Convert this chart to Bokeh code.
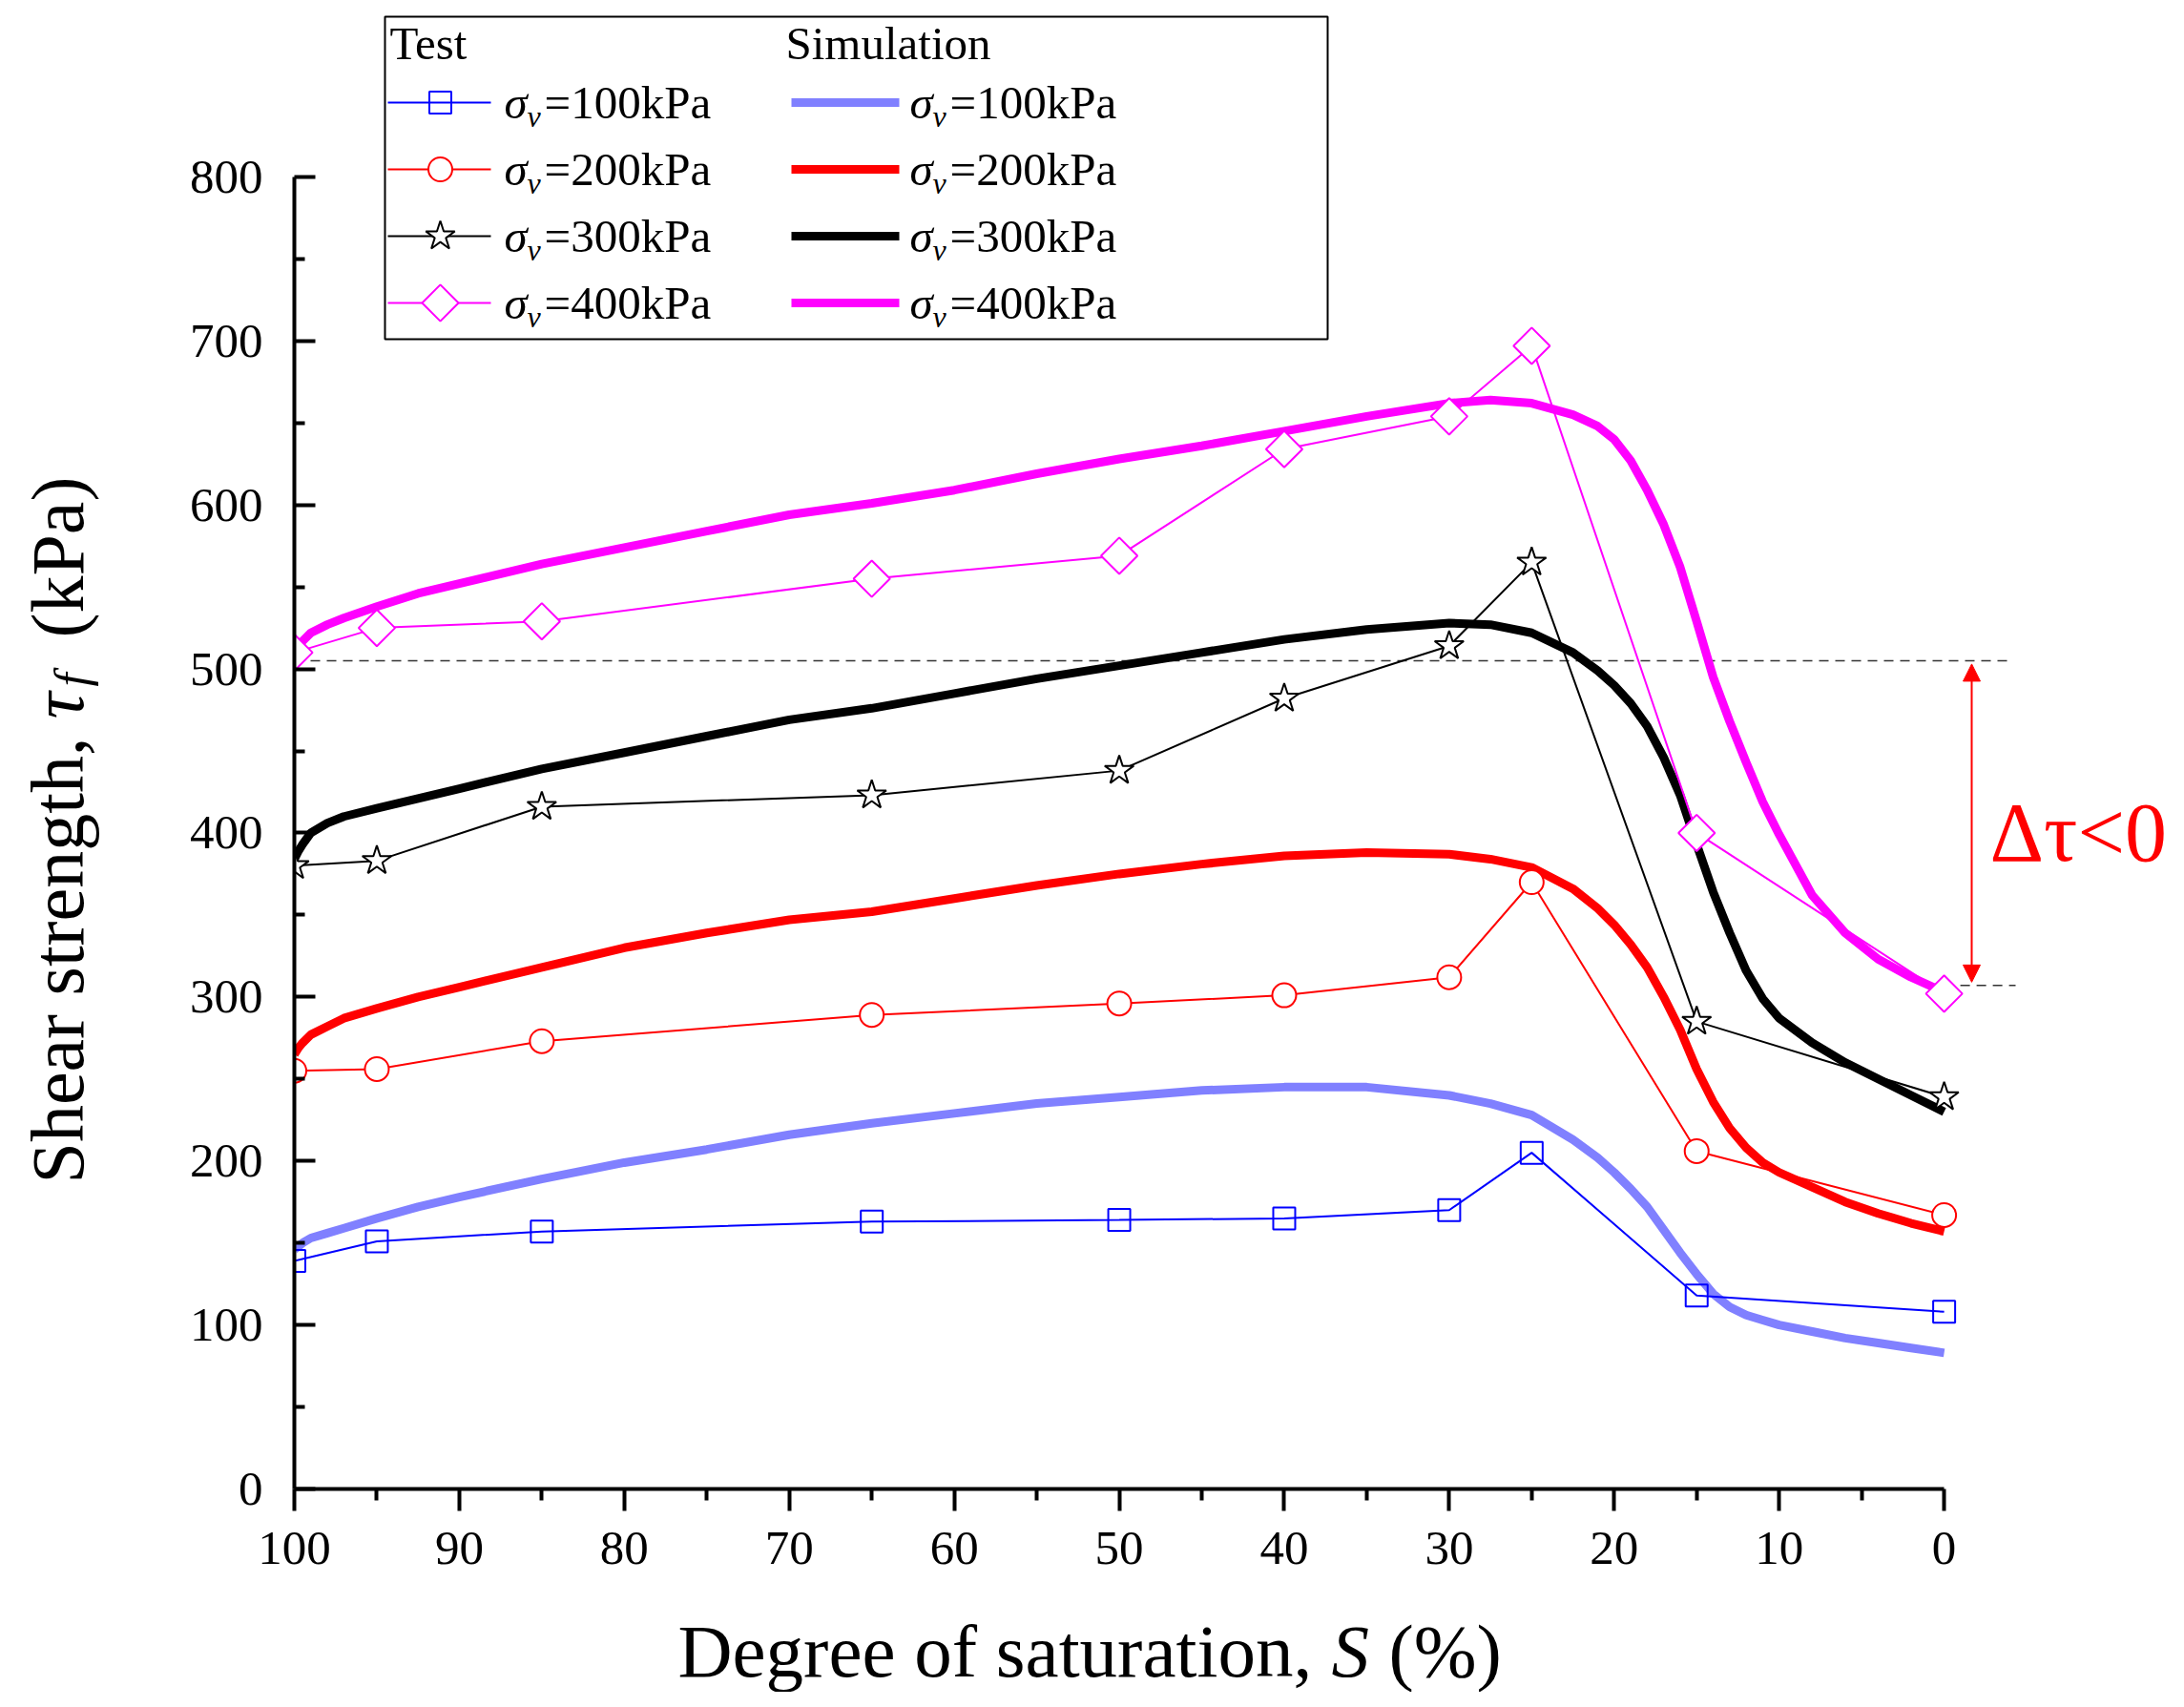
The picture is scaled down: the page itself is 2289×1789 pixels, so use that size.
import numpy as np
from bokeh.plotting import figure
from bokeh.layouts import row, column
from bokeh.models import Range1d, FixedTicker, Label, Arrow, NormalHead
from bokeh.embed import file_html
from bokeh.resources import INLINE

FONT = "Liberation Serif"

# test results: degree of saturation (%) and shear strength (kPa)
S_TEST = [100, 95, 85, 65, 50, 40, 30, 25, 15, 0]
TEST_100 = [139, 151, 157, 163, 164, 165, 170, 205, 118, 108]
TEST_200 = [255, 256, 273, 289, 296, 301, 312, 370, 206, 167]
TEST_300 = [380, 383, 416, 423, 438, 482, 514, 565, 285, 239]
TEST_400 = [510, 525, 529, 555, 569, 634, 654, 697, 400, 302]

# simulation curves
S_SIM = [100, 99.75, 99.5, 99, 98, 97, 95, 92.5, 90, 85, 80, 75, 70, 65, 60,
         55, 50, 45, 40, 35, 30, 27.5, 25, 22.5, 21, 20, 19, 18, 17, 16, 15,
         14, 13, 12, 11, 10, 8, 6, 4, 2, 0]
SIM_100 = [146, 148, 150, 153, 156, 159, 165, 172, 178, 189, 199, 207, 216, 223,
           229, 235, 239, 243, 245, 245, 240, 235, 228, 213, 202, 193, 183, 172,
           158, 144, 131, 119, 111, 106, 103, 100, 96, 92, 89, 86, 83]
SIM_200 = [265, 269, 272, 277, 282, 287, 293, 300, 306, 318, 330, 339, 347, 352,
           360, 368, 375, 381, 386, 388, 387, 384, 379, 366, 354, 344, 332, 318,
           300, 280, 256, 236, 220, 208, 199, 193, 184, 175, 168, 162, 157]
SIM_300 = [384, 389, 393, 400, 406, 410, 415, 421, 427, 439, 449, 459, 469, 476,
           485, 494, 502, 510, 518, 524, 528, 527, 522, 510, 499, 490, 479, 465,
           446, 423, 393, 364, 339, 316, 299, 287, 272, 260, 250, 240, 230]
SIM_400 = [508, 513, 517, 522, 527, 531, 538, 546, 552, 564, 574, 584, 594, 601,
           609, 619, 628, 636, 645, 654, 662, 664, 662, 655, 648, 640, 627, 609,
           588, 562, 529, 495, 468, 443, 419, 399, 362, 339, 323, 312, 303]

STRESS = ["100", "200", "300", "400"]
TEST_COLORS = ["#0000ff", "#ff0000", "#000000", "#ff00ff"]
SIM_COLORS = ["#8080ff", "#ff0000", "#000000", "#ff00ff"]

DT_HIGH, DT_LOW = 505, 307

# layout (pixels)
H = 1773
STRIP_W = 130          # left strip holding the y title
STRIP_H = 100          # bottom strip holding the x title
FRAME_LEFT, FRAME_TOP = 308, 13
FW, FH = 1966, 1547
MAIN_W = FRAME_LEFT - STRIP_W + FW
X0, X1 = 100, -13.7
Y0, Y1 = 0, 900


def dx(px):
    # page pixel -> data x of the main plot
    return X0 + (px - FRAME_LEFT) / FW * (X1 - X0)


def dy(py):
    return Y1 - (py - FRAME_TOP) / FH * (Y1 - Y0)


p = figure(frame_width=FW, frame_height=FH, min_border_left=FRAME_LEFT - STRIP_W,
           min_border_top=FRAME_TOP, min_border_right=0,
           min_border_bottom=H - STRIP_H - FRAME_TOP - FH,
           x_range=Range1d(X0, X1), y_range=Range1d(Y0, Y1),
           output_backend="svg", toolbar_location=None, title=None)
p.outline_line_color = None
p.xgrid.visible = False
p.ygrid.visible = False

for ax in (p.xaxis[0], p.yaxis[0]):
    ax.axis_line_width = 4
    ax.major_tick_line_width = 4
    ax.minor_tick_line_width = 4
    ax.major_label_text_font = FONT
    ax.major_label_text_font_size = "51px"
    ax.major_label_text_color = "black"

p.xaxis.bounds = (0, 100)
p.xaxis.ticker = FixedTicker(ticks=list(range(0, 101, 10)),
                             minor_ticks=list(range(5, 100, 10)))
p.xaxis.major_tick_in = 0
p.xaxis.major_tick_out = 23
p.xaxis.minor_tick_in = 0
p.xaxis.minor_tick_out = 12
p.xaxis.major_label_standoff = 22

p.yaxis.bounds = (0, 800)
p.yaxis.ticker = FixedTicker(ticks=list(range(0, 801, 100)),
                             minor_ticks=list(range(50, 800, 100)))
p.yaxis.major_tick_in = 22
p.yaxis.major_tick_out = 0
p.yaxis.minor_tick_in = 11
p.yaxis.minor_tick_out = 0
p.yaxis.major_label_standoff = 33

# legend box
p.quad(left=[dx(403)], right=[dx(1391)], top=[dy(17)], bottom=[dy(355)],
       fill_color="white", line_color="black", line_width=2)

# reference lines for the strength drop
p.line([S_TEST[0], dx(2108)], [DT_HIGH, DT_HIGH], line_color="#333333",
       line_width=1.5, line_dash="10 7")
p.line([S_TEST[-1], dx(2112)], [DT_LOW, DT_LOW], line_color="#333333",
       line_width=1.5, line_dash="10 7")

sims = [SIM_100, SIM_200, SIM_300, SIM_400]
tests = [TEST_100, TEST_200, TEST_300, TEST_400]
markers = [dict(marker="square", size=23, fill_color=None),
           dict(marker="circle", size=25, fill_color="white"),
           dict(marker="star", size=32, fill_color="white"),
           dict(marker="square", size=27, angle=np.pi / 4, fill_color="white")]

for sim, col in zip(sims, SIM_COLORS):
    p.line(S_SIM, sim, line_color=col, line_width=9)

for t, col, mk in zip(tests, TEST_COLORS, markers):
    p.line(S_TEST, t, line_color=col, line_width=2)
    p.scatter(S_TEST, t, line_color=col, line_width=2, **mk)


def label(fig, x, y, text, size, style="normal", color="black", angle=0.0):
    fig.add_layout(Label(x=x, y=y, text=text, text_font=FONT,
                         text_font_size=f"{size}px", text_font_style=style,
                         text_color=color, angle=angle, text_align="left",
                         text_baseline="middle"))


# legend content
label(p, dx(408), dy(45), "Test", 49)
label(p, dx(823), dy(45), "Simulation", 49)
rows = [107, 177, 247, 317]
for cy, s, tc, sc, mk in zip(rows, STRESS, TEST_COLORS, SIM_COLORS, markers):
    p.line([dx(406), dx(514)], [dy(cy), dy(cy)], line_color=tc, line_width=2)
    p.scatter([dx(461)], [dy(cy)], line_color=tc, line_width=2, **mk)
    p.line([dx(829), dx(942)], [dy(cy), dy(cy)], line_color=sc, line_width=9)
    for x0 in (528, 953):
        label(p, dx(x0), dy(cy), "σ", 49, "italic")
        label(p, dx(x0 + 24), dy(cy + 14), "v", 32, "italic")
        label(p, dx(x0 + 42), dy(cy), "=" + s + "kPa", 49)

# strength drop annotation
ax_x = dx(2066)
p.add_layout(Arrow(x_start=ax_x, y_start=DT_LOW + 2, x_end=ax_x, y_end=DT_HIGH - 2,
                   line_color="#ff0000", line_width=2,
                   start=NormalHead(size=18, fill_color="#ff0000", line_color="#ff0000"),
                   end=NormalHead(size=18, fill_color="#ff0000", line_color="#ff0000")))
label(p, dx(2085), dy(872), "Δτ<0", 88, color="#ff0000")


def strip(w, h, x_range, y_range):
    f = figure(width=w, height=h, x_range=x_range, y_range=y_range,
               x_axis_type=None, y_axis_type=None, min_border=0,
               output_backend="svg", toolbar_location=None, title=None)
    f.outline_line_color = None
    return f


# y title strip: data units are page pixels
py_ = strip(STRIP_W, H, Range1d(0, STRIP_W), Range1d(H, 0))
label(py_, 60, 1240, "Shear strength, ", 78, angle=np.pi / 2)
label(py_, 60, 753, "τ", 78, "italic", angle=np.pi / 2)
label(py_, 74, 719, "f", 51, "italic", angle=np.pi / 2)
label(py_, 60, 668, "(kPa)", 78, angle=np.pi / 2)

# x title strip: its frame lines up with the main frame
px_ = strip(MAIN_W, STRIP_H, Range1d(FRAME_LEFT, FRAME_LEFT + FW), Range1d(H, H - STRIP_H))
label(px_, 710, 1730, "Degree of saturation,", 79)
label(px_, 1395, 1730, "S", 79, "italic")
label(px_, 1455, 1730, "(%)", 79)

layout = row(py_, column(p, px_, spacing=0), spacing=0)

open("out.html", "w").write(file_html(layout, INLINE))
